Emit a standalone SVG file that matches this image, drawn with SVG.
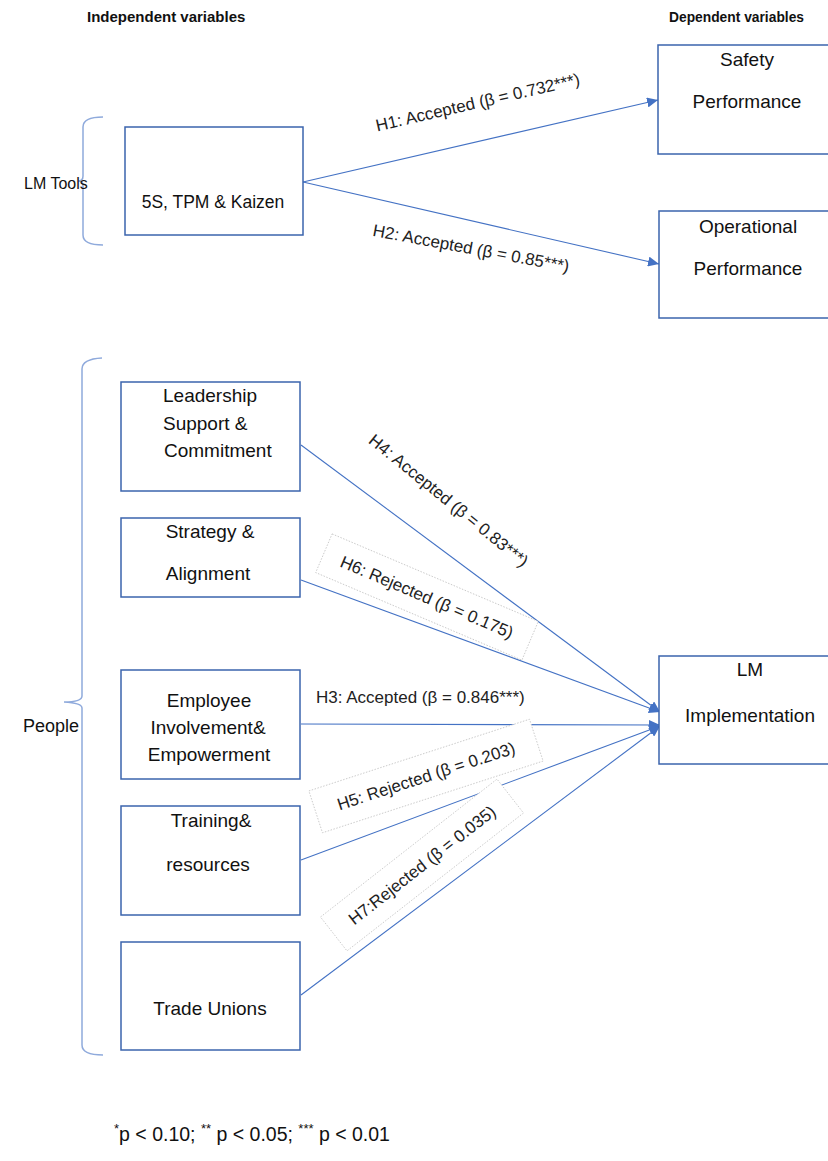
<svg xmlns="http://www.w3.org/2000/svg" width="828" height="1161" viewBox="0 0 828 1161">
<defs>
<marker id="arr" markerUnits="userSpaceOnUse" markerWidth="12" markerHeight="10" refX="11" refY="5" orient="auto">
<path d="M0,0 L11,5 L0,10 Z" fill="#4472C4"/>
</marker>
<style>
.box{fill:#fff;stroke:#3B64AD;stroke-width:1.5}
.t{font-family:"Liberation Sans",Arial,sans-serif;font-size:19px;fill:#111}
.c{text-anchor:middle}
.lbl{font-family:"Liberation Sans",Arial,sans-serif;font-size:17px;fill:#222;text-anchor:middle}
.hd{font-family:"Liberation Sans",Arial,sans-serif;font-size:15px;font-weight:bold;fill:#111}
.ln{stroke:#4472C4;stroke-width:1.1;fill:none}
.lb{fill:#fff;stroke:#c4c4c4;stroke-width:0.8;stroke-dasharray:1.5,1.5}
.br{fill:none;stroke:#8FAADC;stroke-width:1.5}
</style>
</defs>
<rect width="828" height="1161" fill="#fff"/>
<text class="hd" x="87" y="22">Independent variables</text>
<text class="hd" x="669" y="22" textLength="135" lengthAdjust="spacingAndGlyphs">Dependent variables</text>

<g id="brackets">
<path class="br" d="M103,117 Q83,117 83,127 L83,176 Q83,181 78,181 Q83,181 83,186 L83,235 Q83,245 103,245"/>
<path class="br" d="M102,358 Q82,359 82,369 L82,696 Q82,702 64,702 Q82,703 82,708 L82,1045 Q82,1055 103,1055"/>
</g>
<text class="t" x="24" y="189" style="font-size:16px">LM Tools</text>
<text class="t" x="23" y="732" style="font-size:18px">People</text>

<g id="connectors">
<line class="ln" x1="303" y1="182" x2="658" y2="100" marker-end="url(#arr)"/>
<line class="ln" x1="303" y1="182" x2="659" y2="264" marker-end="url(#arr)"/>
<line class="ln" x1="301" y1="445" x2="660" y2="712" marker-end="url(#arr)"/>
<line class="ln" x1="301" y1="580" x2="660" y2="712" marker-end="url(#arr)"/>
<line class="ln" x1="301" y1="724" x2="660" y2="725" marker-end="url(#arr)"/>
<line class="ln" x1="301" y1="860" x2="660" y2="726" marker-end="url(#arr)"/>
<line class="ln" x1="301" y1="995" x2="660" y2="726" marker-end="url(#arr)"/>
</g>

<g id="label-h1"><text class="lbl" transform="translate(479,108) rotate(-13)">H1: Accepted (β = 0.732***)</text></g>
<g id="label-h2"><text class="lbl" transform="translate(470,254) rotate(10.5)">H2: Accepted (β = 0.85***)</text></g>
<g id="label-h4"><text class="lbl" transform="translate(445,505) rotate(39)">H4: Accepted (β = 0.83***)</text></g>
<g id="label-h6" transform="translate(427,597) rotate(23)"><rect class="lb" x="-112" y="-21" width="224" height="42"/><text class="lbl" x="0" y="6">H6: Rejected (β = 0.175)</text></g>
<g id="label-h3"><text class="lbl" x="316" y="703" style="text-anchor:start">H3: Accepted (β = 0.846***)</text></g>
<g id="label-h5" transform="translate(426,776) rotate(-18)"><rect class="lb" x="-116" y="-22" width="232" height="44"/><text class="lbl" x="0" y="6">H5: Rejected (β = 0.203)</text></g>
<g id="label-h7" transform="translate(422,865) rotate(-38)"><rect class="lb" x="-112" y="-21.5" width="224" height="43"/><text class="lbl" x="0" y="6">H7:Rejected (β = 0.035)</text></g>

<g id="node-tools"><rect class="box" x="125" y="127" width="178" height="108"/><text class="t c" x="213" y="208" style="font-size:17.5px">5S, TPM &amp; Kaizen</text></g>
<g id="node-safety"><rect class="box" x="658" y="45" width="180" height="109"/><text class="t c" x="747" y="66">Safety</text><text class="t c" x="747" y="108">Performance</text></g>
<g id="node-operational"><rect class="box" x="659" y="211" width="180" height="107"/><text class="t c" x="748" y="233">Operational</text><text class="t c" x="748" y="275">Performance</text></g>
<g id="node-lm"><rect class="box" x="659" y="656" width="180" height="108"/><text class="t c" x="750" y="676">LM</text><text class="t c" x="750" y="722">Implementation</text></g>
<g id="node-leadership"><rect class="box" x="121" y="382" width="179" height="109"/><text class="t" x="163" y="402">Leadership</text><text class="t" x="163" y="430">Support &amp;</text><text class="t" x="164" y="457">Commitment</text></g>
<g id="node-strategy"><rect class="box" x="121" y="518" width="179" height="79"/><text class="t c" x="210" y="538">Strategy &amp;</text><text class="t c" x="208" y="580">Alignment</text></g>
<g id="node-employee"><rect class="box" x="121" y="670" width="179" height="109"/><text class="t c" x="209" y="707">Employee</text><text class="t c" x="208" y="734">Involvement&amp;</text><text class="t c" x="209" y="761">Empowerment</text></g>
<g id="node-training"><rect class="box" x="121" y="806" width="179" height="109"/><text class="t c" x="211" y="827">Training&amp;</text><text class="t c" x="208" y="871">resources</text></g>
<g id="node-trade"><rect class="box" x="121" y="942" width="179" height="108"/><text class="t c" x="210" y="1015">Trade Unions</text></g>

<text class="t" x="114" y="1141" style="font-size:19.5px"><tspan font-size="13" dy="-8">*</tspan><tspan dy="8">p &lt; 0.10; </tspan><tspan font-size="13" dy="-8">**</tspan><tspan dy="8"> p &lt; 0.05; </tspan><tspan font-size="13" dy="-8">***</tspan><tspan dy="8"> p &lt; 0.01</tspan></text>
</svg>
